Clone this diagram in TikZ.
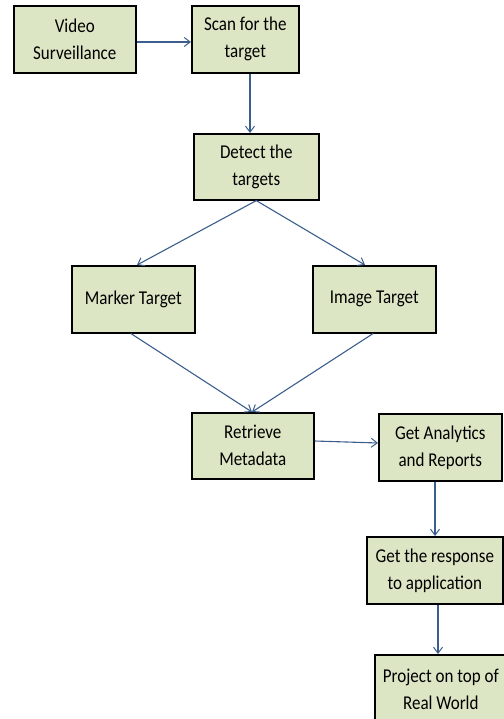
\documentclass[tikz,border=0pt]{standalone}
\usepackage{fontspec}
\usepackage{graphicx}
\setmainfont{Carlito}
\usetikzlibrary{arrows.meta}
\definecolor{boxfill}{HTML}{DCE6C4}
\definecolor{linkblue}{HTML}{3B5E8C}
% slightly tall lettering for the box captions
\newcommand{\tl}[1]{\scalebox{1}[1.15]{#1}}
\tikzset{
  flowbox/.style={draw=black, line width=1.6pt, fill=boxfill, inner sep=0pt,
    align=center, font=\fontsize{17}{27}\selectfont, anchor=north west},
  flowlink/.style={draw=linkblue, line width=1.1pt,
    -{Straight Barb[length=6pt,width=9pt,line width=1pt]}}
}
\begin{document}
\begin{tikzpicture}[x=1pt,y=-1pt]
  \useasboundingbox (0,0) rectangle (503,719);
  % process boxes (top-left corner, size)
  \node[flowbox, minimum width=122pt, minimum height=67pt] (video) at (13,5)
    {\tl{Video}\\\tl{Surveillance}};
  \node[flowbox, minimum width=107pt, minimum height=67pt] (scan) at (191,5)
    {\tl{Scan for the}\\\tl{target}};
  \node[flowbox, minimum width=125pt, minimum height=66pt] (detect) at (193,133)
    {\tl{Detect the}\\\tl{targets}};
  \node[flowbox, minimum width=123pt, minimum height=67pt] (marker) at (71,265)
    {\tl{Marker Target}};
  \node[flowbox, minimum width=123pt, minimum height=67pt] (image) at (312,265)
    {\tl{Image Target}};
  \node[flowbox, minimum width=122pt, minimum height=66pt] (meta) at (191,412)
    {\tl{Retrieve}\\\tl{Metadata}};
  \node[flowbox, minimum width=123pt, minimum height=67pt] (analytics) at (378,413)
    {\tl{Get Analytics}\\\tl{and Reports}};
  \node[flowbox, minimum width=136pt, minimum height=67pt] (response) at (366,536)
    {\tl{Get the response}\\\tl{to application}};
  \node[flowbox, minimum width=132pt, minimum height=69pt] (project) at (374,654)
    {\tl{Project on top of}\\\tl{Real World}};
  % connectors
  \draw[flowlink] (video.east |- 0,42) -- (scan.west |- 0,42);
  \draw[flowlink] (scan.south -| 250,0) -- (detect.north -| 250,0);
  \coordinate (dsplit) at (detect.south);
  \draw[flowlink] (dsplit) -- (marker.north -| 137,0);
  \draw[flowlink] (dsplit) -- (image.north -| 365,0);
  \coordinate (mjoin) at (meta.north -| 252,0);
  \draw[flowlink] (marker.south -| 131,0) -- (mjoin);
  \draw[flowlink] (image.south -| 373,0) -- (mjoin);
  \draw[flowlink] (meta.east |- 0,441) -- (analytics.west |- 0,443);
  \draw[flowlink] (analytics.south -| 435,0) -- (response.north -| 435,0);
  \draw[flowlink] (response.south -| 438,0) -- (project.north -| 438,0);
\end{tikzpicture}
\end{document}
